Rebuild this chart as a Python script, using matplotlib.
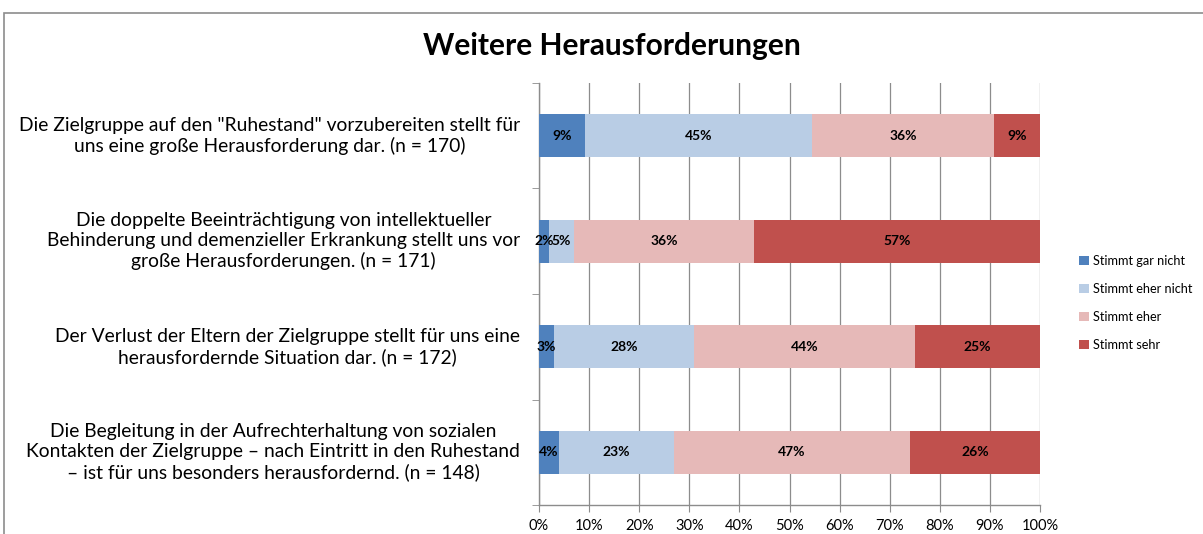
import matplotlib
matplotlib.use("Agg")
import matplotlib.pyplot as plt
import matplotlib.patheffects as pe
from matplotlib.patches import Rectangle
import numpy as np

plt.rcParams['font.family'] = ['Lato', 'DejaVu Sans']

title = "Weitere Herausforderungen"
categories = [
    'Die Zielgruppe auf den "Ruhestand" vorzubereiten stellt für\nuns eine große Herausforderung dar. (n = 170)',
    'Die doppelte Beeinträchtigung von intellektueller\nBehinderung und demenzieller Erkrankung stellt uns vor\ngroße Herausforderungen. (n = 171)',
    'Der Verlust der Eltern der Zielgruppe stellt für uns eine\nherausfordernde Situation dar. (n = 172)',
    'Die Begleitung in der Aufrechterhaltung von sozialen\nKontakten der Zielgruppe – nach Eintritt in den Ruhestand\n– ist für uns besonders herausfordernd. (n = 148)',
]
series_names = ["Stimmt gar nicht", "Stimmt eher nicht", "Stimmt eher", "Stimmt sehr"]
gar_nicht = [9, 2, 3, 4]
eher_nicht = [45, 5, 28, 23]
eher = [36, 36, 44, 47]
sehr = [9, 57, 25, 26]
series = [gar_nicht, eher_nicht, eher, sehr]
colors = ["#4F81BD", "#B9CDE5", "#E6B9B8", "#C0504D"]
xticks = list(range(0, 101, 10))

W, H = 1203, 534
fig = plt.figure(figsize=(W / 100, H / 100), dpi=100)
ax = fig.add_axes([539 / W, 1 - 505 / H, (1040 - 539) / W, (505 - 83) / H])

# outer chart frame
fig.patches.append(Rectangle((4 / W, -0.1), 1.2, 1 - 13 / H + 0.1, transform=fig.transFigure,
                             fill=False, edgecolor="#8c8c8c", linewidth=1.2))

# 100% stacked: each row is scaled to its own total
data = np.array(series, dtype=float)
totals = data.sum(axis=0)

ypos = np.arange(len(categories))
left = np.zeros(len(categories))
for name, vals, col in zip(series_names, data, colors):
    widths = vals / totals * 100
    ax.barh(ypos, widths, left=left, height=0.41, color=col, label=name, zorder=3,
            path_effects=[pe.SimplePatchShadow(offset=(1.5, -1.5), shadow_rgbFace="#000000", alpha=0.12),
                          pe.Normal()])
    for y, l, w, v in zip(ypos, left, widths, vals):
        ax.text(l + w / 2, y, f"{int(v)}%", ha="center", va="center", fontsize=10,
                fontweight="bold", color="black", zorder=5)
    left += widths

ax.set_xlim(0, 100)
ax.set_ylim(len(categories) - 0.5, -0.5)
ax.set_xticks(xticks)
ax.set_xticklabels([f"{t}%" for t in xticks], fontsize=10.5)
ax.xaxis.grid(True, color="#8c8c8c", linewidth=0.9, zorder=0)
ax.set_axisbelow(True)
ax.tick_params(axis="x", length=5, color="#8c8c8c", pad=5)

ax.set_yticks(ypos)
ax.set_yticklabels([])
ax.tick_params(axis="y", which="major", length=0)
ax.set_yticks(np.arange(-0.5, len(categories), 1.0), minor=True)
ax.tick_params(axis="y", which="minor", length=5, color="#8c8c8c")

for s in ["top", "right"]:
    ax.spines[s].set_visible(False)
for s in ["left", "bottom"]:
    ax.spines[s].set_color("#8c8c8c")
    ax.spines[s].set_linewidth(1.0)

for y, lab in zip(ypos, categories):
    ax.text(-19 / 501 * 100, y, lab, ha="right", va="center", multialignment="center",
            fontsize=13.9, linespacing=1.2, color="black", transform=ax.transData, clip_on=False)

fig.text(612 / W, 1 - 46 / H, title, ha="center", va="center", fontsize=21.5, fontweight="bold")

handles, labels = ax.get_legend_handles_labels()
for h in handles:
    for p in h.patches:
        p.set_path_effects([])
fig.legend(handles, labels, loc="center left", bbox_to_anchor=(1070 / W, 1 - 303 / H),
           frameon=False, fontsize=9.2, handlelength=0.75, handleheight=0.75,
           handletextpad=0.35, labelspacing=1.25, borderaxespad=0.3)

fig.savefig("out.png", dpi=100)
